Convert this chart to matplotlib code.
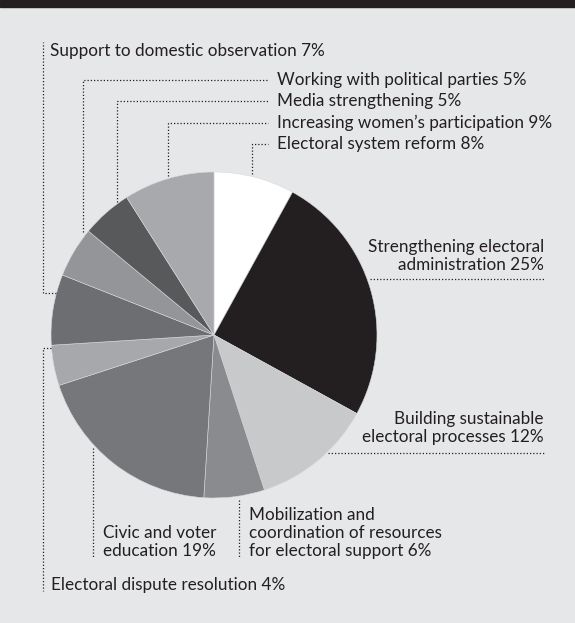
import matplotlib.pyplot as plt

# share of electoral assistance by area, clockwise from the top
labels = ["Electoral system reform", "Strengthening electoral\nadministration",
          "Building sustainable\nelectoral processes",
          "Mobilization and\ncoordination of resources\nfor electoral support",
          "Civic and voter\neducation", "Electoral dispute resolution",
          "Support to domestic observation", "Working with political parties",
          "Media strengthening", "Increasing women\u2019s participation"]
shares = [8, 25, 12, 6, 19, 4, 7, 5, 5, 9]
colors = ["#ffffff", "#231f20", "#c8c9cb", "#8a8b8e", "#76777b",
          "#a7a8ab", "#6d6e71", "#939598", "#58595b", "#a7a9ac"]

BG = "#e6e7e8"
INK = "#231f20"
W, H = 575, 623

fig = plt.figure(figsize=(W / 100, H / 100), dpi=100)
fig.patch.set_facecolor(BG)
ax = fig.add_axes([0, 0, 1, 1])

# dark band along the top
ax.axhspan(0, 7, color=INK, zorder=1)

cx, cy, r = 214, 335, 163
ax.pie(shares, colors=colors, startangle=-90, counterclock=True,
       center=(cx, cy), radius=r, frame=True,
       wedgeprops=dict(linewidth=0.4, edgecolor="#d8d9db"))
ax.set_xlim(0, W)
ax.set_ylim(H, 0)
ax.set_aspect("equal")
ax.axis("off")

font = dict(family=["Lato", "DejaVu Sans"], fontsize=12.3, color=INK)
dot = dict(color=INK, lw=0.9, ls=(0, (1, 1.6)))

def lab(i):
    return f"{labels[i]} {shares[i]}%"

# labels above the pie, leaders come down to their slices
top = [(0, 252, 144, 174), (9, 168, 123, 176), (8, 117, 101, 202),
       (7, 83, 80, 232)]
for i, lx, ly, ey in top:
    ax.plot([lx, lx, 268], [ey, ly, ly], **dot)
    ax.text(277, ly, lab(i), va="center", ha="left", **font)

# domestic observation: elbow on the left side
ax.plot([56, 43, 43], [293, 293, 42], **dot)
ax.text(50, 51, lab(6), va="center", ha="left", **font)

# dispute resolution
ax.plot([51, 43, 43], [348, 348, 591], **dot)
ax.text(51, 585, lab(5), va="center", ha="left", **font)

# right side labels with horizontal rules
ax.plot([370, 545], [279, 279], **dot)
ax.text(544, 256, lab(1), va="center", ha="right", linespacing=1.12, **font)
ax.plot([328, 545], [453, 453], **dot)
ax.text(544, 428, lab(2), va="center", ha="right", linespacing=1.12, **font)

# bottom labels with vertical rules
ax.plot([93, 93], [448, 557], **dot)
ax.text(103, 542, lab(4), va="center", ha="left", linespacing=1.12, **font)
ax.plot([239, 239], [500, 557], **dot)
ax.text(249, 533, lab(3), va="center", ha="left", linespacing=1.12, **font)

fig.savefig("out.png", dpi=100, facecolor=BG)
